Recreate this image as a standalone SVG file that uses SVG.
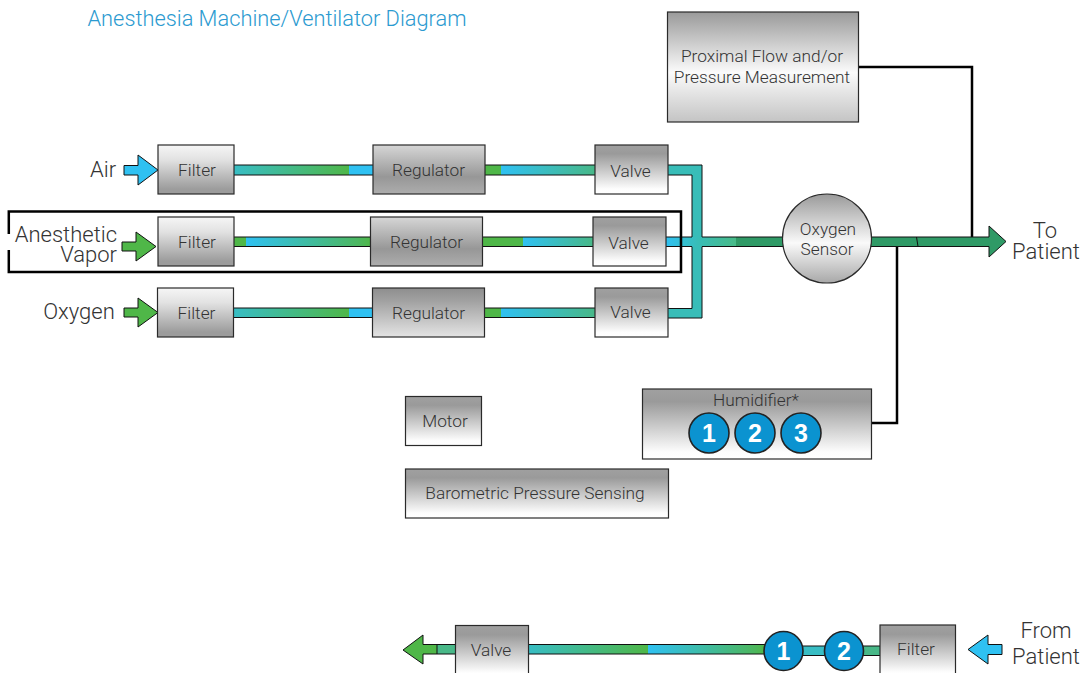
<svg xmlns="http://www.w3.org/2000/svg" width="1081" height="673" viewBox="0 0 1081 673">
<style>
text{font-family:Roboto,"Liberation Sans",Arial,sans-serif;font-weight:300;fill:#333;text-anchor:middle}
.n{font-size:17.300px}.l{font-size:22px}
.b{stroke:#2a2a2a;stroke-width:1.2}
.p{stroke:#111;stroke-width:1;fill:none}
.w{fill:none;stroke:#000;stroke-width:2.5}
.c{fill:#0b93d0;stroke:#222;stroke-width:1.6}
.d{font-size:25px;font-weight:700;fill:#fff;font-family:"Liberation Sans",Arial,sans-serif}
.ar{stroke:#111;stroke-width:1}
</style>
<defs>
<linearGradient id="gF" x1="0" y1="0" x2="0" y2="1"><stop offset="0" stop-color="#f6f6f6"/><stop offset=".3" stop-color="#e2e2e2"/><stop offset=".9" stop-color="#9c9c9c"/><stop offset="1" stop-color="#9c9c9c"/></linearGradient>
<linearGradient id="gR" x1="0" y1="0" x2="0" y2="1"><stop offset="0" stop-color="#d6d6d6"/><stop offset=".65" stop-color="#979797"/><stop offset="1" stop-color="#adadad"/></linearGradient>
<linearGradient id="gR2" x1="0" y1="0" x2="0" y2="1"><stop offset="0" stop-color="#8e8e8e"/><stop offset=".25" stop-color="#a0a0a0"/><stop offset="1" stop-color="#e4e4e4"/></linearGradient>
<linearGradient id="gV" x1="0" y1="0" x2="0" y2="1"><stop offset="0" stop-color="#a0a0a0"/><stop offset=".18" stop-color="#9a9a9a"/><stop offset=".9" stop-color="#fdfdfd"/><stop offset="1" stop-color="#fff"/></linearGradient>
<linearGradient id="gP" x1="0" y1="0" x2="0" y2="1"><stop offset="0" stop-color="#9a9a9a"/><stop offset=".55" stop-color="#fbfbfb"/><stop offset="1" stop-color="#c4c4c4"/></linearGradient>
<linearGradient id="gS" x1="0" y1="0" x2="0" y2="1"><stop offset="0" stop-color="#9a9a9a"/><stop offset=".55" stop-color="#fafafa"/><stop offset="1" stop-color="#a8a8a8"/></linearGradient>
<linearGradient id="gTG" x1="0" y1="0" x2="1" y2="0"><stop offset="0" stop-color="#38bdc4"/><stop offset="1" stop-color="#4fb748"/></linearGradient>
<linearGradient id="gBT" x1="0" y1="0" x2="1" y2="0"><stop offset="0" stop-color="#2fc1f2"/><stop offset="1" stop-color="#48b888"/></linearGradient>
<linearGradient id="gBG" x1="0" y1="0" x2="1" y2="0"><stop offset="0" stop-color="#2fc1f2"/><stop offset=".9" stop-color="#4cb760"/><stop offset="1" stop-color="#4fb748"/></linearGradient>
<linearGradient id="gM" x1="0" y1="0" x2="1" y2="0"><stop offset="0" stop-color="#2fc1f2"/><stop offset=".45" stop-color="#38bdb8"/><stop offset="1" stop-color="#48bb88"/></linearGradient>
</defs>
<text x="277" y="26" style="font-size:21.800px;fill:#2b9ad0">Anesthesia Machine/Ventilator Diagram</text>
<g id="connectors">
<path class="w" d="M858 67H972V238"/>
<path class="w" d="M872 423H897V246"/>
<rect x="234" y="165" width="116" height="10" fill="url(#gTG)"/><rect x="349" y="165" width="24" height="10" fill="#2fc1f2"/>
<rect x="485" y="165" width="17" height="10" fill="#4fb748"/><rect x="501" y="165" width="94" height="10" fill="url(#gBT)"/>
<path class="p" d="M234 165H373M234 175H373M485 165H595M485 175H595"/>
<rect x="234" y="237" width="12.500" height="9.500" fill="#4fb748"/><rect x="246" y="237" width="125" height="9.500" fill="url(#gBG)"/>
<rect x="483" y="237" width="41" height="9.500" fill="#4fb748"/><rect x="523" y="237" width="70" height="9.500" fill="url(#gBT)"/>
<path class="p" d="M234 237H371M234 246.500H371M483 237H593M483 246.500H593"/>
<rect x="234" y="308" width="116" height="9.500" fill="url(#gTG)"/><rect x="349" y="308" width="24" height="9.500" fill="#2fc1f2"/>
<rect x="485" y="308" width="17" height="9.500" fill="#4fb748"/><rect x="501" y="308" width="94" height="9.500" fill="url(#gBT)"/>
<path class="p" d="M234 308H373M234 317.500H373M485 308H595M485 317.500H595"/>
<path d="M668 165H702V318H668V308.500H692V175H668Z" fill="#38bdb8"/>
<path class="p" d="M668 165H702V237M702 246.500V318H668M668 308.500H692V246.500M692 237V175H668"/>
<rect x="666" y="237" width="70" height="9.500" fill="url(#gM)"/>
<rect x="736" y="237" width="48" height="9.500" fill="#2f9a66"/>
<path class="p" d="M666 237H692M702 237H784M666 246.500H692M702 246.500H784"/>
<path d="M870 237H989V226L1006 241.500L989 257V246.500H870Z" fill="#2f9a66" class="ar"/>
<path d="M916.500 237L918 246.500" stroke="#111" stroke-width="1" fill="none"/>
<rect x="437" y="644.500" width="18" height="9.500" fill="#48b888"/>
<rect x="528" y="644.500" width="120" height="9.500" fill="url(#gTG)"/>
<rect x="648" y="644.500" width="117" height="9.500" fill="url(#gBG)"/>
<path class="p" d="M437 644.500H455M437 654H455M528 644.500H765M528 654H765"/>
<rect x="800" y="646" width="27" height="9.500" fill="#38bdc4"/>
<rect x="860" y="646" width="21" height="9.500" fill="#48b888"/>
<path class="p" d="M800 646H827M800 655.500H827M860 646H881M860 655.500H881"/>
<path d="M437 644.500H423V635L403 650L423 664V654H437Z" fill="#4fb748" class="ar"/>
<path d="M124 165.500H138V155L158 170L138 185V175H124Z" fill="#2fc1f2" class="ar"/>
<path d="M122 242H136V232L156 246.500L136 261V251H122Z" fill="#4fb748" class="ar"/>
<path d="M124 308H138V298L158 312.500L138 327V317H124Z" fill="#4fb748" class="ar"/>
<path d="M1002 644.500H988V635L968 649.500L988 664V654.500H1002Z" fill="#2fc1f2" class="ar"/>
</g>
<g id="label-air"><text class="l" x="103" y="177">Air</text></g>
<g id="label-vapor"><text class="l" x="117" y="242" style="text-anchor:end">Anesthetic</text><text class="l" x="117" y="262" style="text-anchor:end">Vapor</text></g>
<g id="label-oxygen"><text class="l" x="79" y="319">Oxygen</text></g>
<g id="label-to-patient"><text class="l" x="1045" y="238">To</text><text class="l" x="1046" y="259">Patient</text></g>
<g id="label-from-patient"><text class="l" x="1046" y="638">From</text><text class="l" x="1046" y="664">Patient</text></g>
<g id="filter-air"><rect class="b" x="158" y="145" width="76" height="49" fill="url(#gF)"/><text class="n" x="197" y="175.500">Filter</text></g>
<g id="filter-vapor"><rect class="b" x="158" y="217" width="76" height="49" fill="url(#gF)"/><text class="n" x="197" y="247.500">Filter</text></g>
<g id="filter-oxygen"><rect class="b" x="157.500" y="288" width="76" height="49" fill="url(#gF)"/><text class="n" x="196.500" y="318.500">Filter</text></g>
<g id="regulator-air"><rect class="b" x="373" y="145" width="112" height="49" fill="url(#gR)"/><text class="n" x="428.500" y="175.500">Regulator</text></g>
<g id="regulator-vapor"><rect class="b" x="370.500" y="217" width="112" height="49" fill="url(#gR)"/><text class="n" x="426.500" y="247.500">Regulator</text></g>
<g id="regulator-oxygen"><rect class="b" x="372.500" y="288" width="112" height="49" fill="url(#gR2)"/><text class="n" x="428.500" y="318.500">Regulator</text></g>
<g id="valve-air"><rect class="b" x="595" y="145" width="73" height="49" fill="url(#gV)"/><text class="n" x="630.500" y="176.500">Valve</text></g>
<g id="valve-vapor"><rect class="b" x="593" y="217" width="73" height="49" fill="url(#gV)"/><text class="n" x="628.500" y="248.500">Valve</text></g>
<g id="valve-oxygen"><rect class="b" x="595" y="288" width="73" height="49" fill="url(#gV)"/><text class="n" x="630.500" y="317.500">Valve</text></g>
<g id="proximal"><rect class="b" x="667.500" y="12" width="191" height="110" fill="url(#gP)"/><text class="n" x="762" y="62">Proximal Flow and/or</text><text class="n" x="762" y="83">Pressure Measurement</text></g>
<g id="oxygen-sensor"><circle class="b" cx="827" cy="238.500" r="44.500" fill="url(#gS)"/><text class="n" x="828" y="235">Oxygen</text><text class="n" x="827" y="255">Sensor</text></g>
<g id="humidifier"><rect class="b" x="642.500" y="389" width="229" height="70" fill="url(#gV)"/><text class="n" x="756" y="406">Humidifier*</text>
<circle class="c" cx="709" cy="433" r="20"/><text class="d" x="709" y="441.500">1</text>
<circle class="c" cx="755" cy="433" r="20"/><text class="d" x="755" y="441.500">2</text>
<circle class="c" cx="801" cy="433" r="20"/><text class="d" x="801" y="441.500">3</text></g>
<g id="motor"><rect class="b" x="405.500" y="396.500" width="76" height="49" fill="url(#gV)"/><text class="n" x="445" y="426.500">Motor</text></g>
<g id="barometric"><rect class="b" x="405.500" y="469" width="263" height="49" fill="url(#gV)"/><text class="n" x="535" y="498.500">Barometric Pressure Sensing</text></g>
<g id="valve-return"><rect class="b" x="455.500" y="625.500" width="73" height="52" fill="url(#gV)"/><text class="n" x="491" y="656">Valve</text></g>
<g id="filter-return"><rect class="b" x="880" y="625" width="75.500" height="52" fill="url(#gV)"/><text class="n" x="916" y="655">Filter</text></g>
<g id="return-1"><circle class="c" cx="783.500" cy="651" r="19.500"/><text class="d" x="783.500" y="659.500">1</text></g>
<g id="return-2"><circle class="c" cx="844" cy="651" r="19.500"/><text class="d" x="844" y="659.500">2</text></g>
<path id="vapor-frame" d="M8.800 234V211.500H681V272H8.800V250" fill="none" stroke="#000" stroke-width="2.500"/>
</svg>
